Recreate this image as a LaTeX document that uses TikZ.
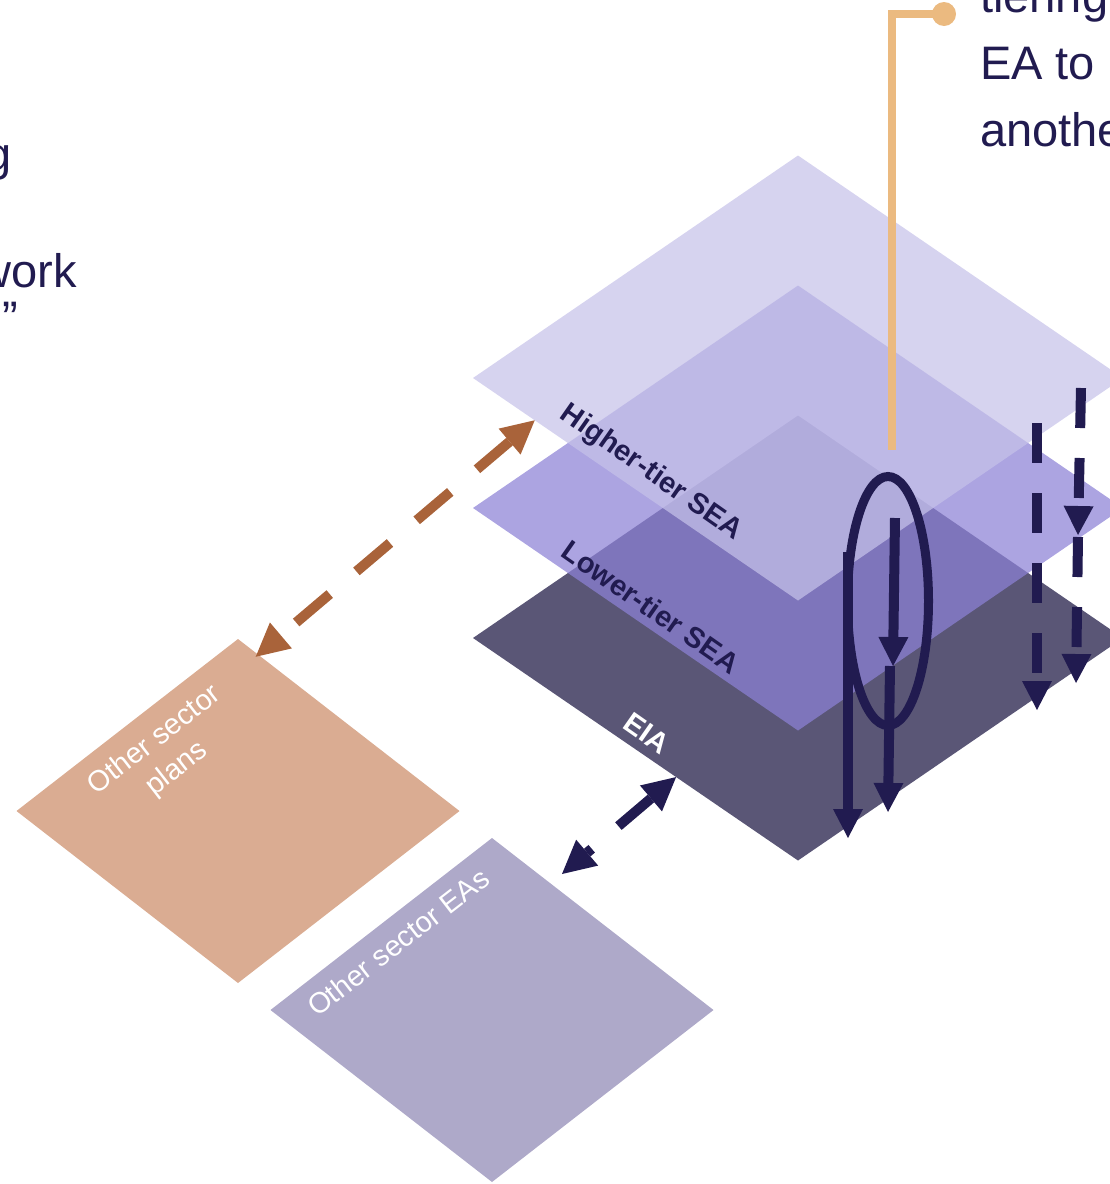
\documentclass[tikz,border=0pt]{standalone}
\usepackage{fontspec}
\setmainfont{Liberation Sans}
\usepackage{xcolor}
\usetikzlibrary{shapes, positioning, calc, arrows.meta}
\definecolor{tierhigh}{RGB}{198,194,233}
\definecolor{tierlow}{RGB}{140,129,214}
\definecolor{tiereia}{RGB}{90,86,118}
\definecolor{plansand}{RGB}{218,172,146}
\definecolor{easlilac}{RGB}{174,169,201}
\definecolor{inknavy}{RGB}{33,27,80}
\definecolor{rustbrown}{RGB}{169,99,58}
\definecolor{calloutorange}{RGB}{235,186,128}

\begin{document}
\begin{tikzpicture}[x=1pt, y=-1pt]
			\tikzstyle{layer}=[diamond, draw=none, inner sep=0pt, outer sep=0pt, minimum width=650pt, minimum height=445pt]
			\tikzstyle{sector}=[diamond, draw=none, inner sep=0pt, outer sep=0pt, minimum width=443pt, minimum height=344pt]
			\tikzstyle{tierlabel}=[inner sep=0pt, rotate=-35, text=inknavy, font=\bfseries\fontsize{29}{35}\selectfont]
			\tikzstyle{sectorlabel}=[inner sep=0pt, rotate=37.8, text=white, align=center, font=\fontsize{29}{36}\selectfont]
			\tikzstyle{bigtext}=[inner sep=0pt, text=inknavy, font=\fontsize{47}{67}\selectfont]
			\tikzstyle{flow}=[draw=inknavy, line width=10pt, -{Triangle[length=29pt, width=30pt, line width=0pt]}]
			\tikzstyle{dashflow}=[flow, dash pattern=on 40pt off 30pt]
			\tikzstyle{linkdash}=[line width=10pt, dash pattern=on 44pt off 35pt, {Triangle[length=33pt, width=34pt, line width=0pt]}-{Triangle[length=33pt, width=34pt, line width=0pt]}]
			\tikzstyle{dotmark}=[circle, fill=calloutorange, inner sep=0pt, minimum size=24pt]
			%%
			\useasboundingbox (0,0) rectangle (1110,1184);
			\clip (0,0) rectangle (1110,1184);
			
			%% layers
			\node (eia) at (798,638) [layer, fill=tiereia] {};
			\node (lsea) at (798,508) [layer, fill=tierlow, fill opacity=0.72] {};
			\node (hsea) at (798,378) [layer, fill=tierhigh, fill opacity=0.72] {};
			\node (plans) at (238,811) [sector, fill=plansand] {};
			\node (eas) at (492,1010) [sector, fill=easlilac] {};
			
			\node (lhigh) at (651,473) [tierlabel] {Higher-tier SEA};
			\node (llow) at (651,607) [tierlabel] {Lower-tier SEA};
			\node (leia) at (647,733) [tierlabel, text=white] {EIA};
			\node (lplans) at (166,755) [sectorlabel] {Other sector\\plans};
			\node (leas) at (398,942) [sectorlabel] {Other sector EAs};
			
			%% text
			\node (note1) at (980,12) [bigtext, anchor=base west] {tiering};
			\node (note2) at ([yshift=-67pt]note1.base west) [bigtext, anchor=base west] {EA to};
			\node (note3) at ([yshift=-67pt]note2.base west) [bigtext, anchor=base west] {another};
			\node (side1) at (12,170) [bigtext, anchor=base east] {g};
			\node (side2) at (77,287) [bigtext, anchor=base east] {work};
			\node (side3) at (18,334) [bigtext, anchor=base east] {”};
			
			%% links
			\coordinate (hsea-tip) at ($(hsea.west)!0.19!(hsea.south)$);
			\coordinate (plans-tip) at ($(plans.north)!0.08!(plans.east)+(0,4)$);
			\coordinate (eia-tip) at ($(eia.west)!0.625!(eia.south)$);
			\coordinate (eas-tip) at (562,874);
			\draw [linkdash, draw=rustbrown, dash phase=59pt] (plans-tip) -- (hsea-tip);
			\draw [linkdash, draw=inknavy, dash phase=38pt] (eas-tip) -- (eia-tip);
			
			%% tiering arrows
			\node (loop) at (888,601) [ellipse, draw=inknavy, line width=9pt, inner sep=0pt, minimum width=81pt, minimum height=249pt] {};
			\coordinate (a1) at (895,518);
			\coordinate (a2) at (893,666);
			\coordinate (b1) at (890,666);
			\coordinate (b2) at (888,812);
			\coordinate (c1) at (848,552);
			\coordinate (c2) at (848,838);
			\coordinate (d1) at (1037,423);
			\coordinate (d2) at (1037,710);
			\coordinate (e1) at (1081,388);
			\coordinate (e2) at (1078,535);
			\coordinate (e3) at (1078,537);
			\coordinate (e4) at (1076,683);
			\draw [flow] (a1) -- (a2);
			\draw [flow] (b1) -- (b2);
			\draw [flow] (c1) -- (c2);
			\draw [dashflow] (d1) -- (d2);
			\draw [dashflow] (e1) -- (e2);
			\draw [dashflow] (e3) -- (e4);
			
			%% callout
			\node (dot) at (944,14) [dotmark] {};
			\draw [calloutorange, line width=8pt] (dot.center) -| ([xshift=4pt, yshift=22pt]loop.north);
\end{tikzpicture}
\end{document}
